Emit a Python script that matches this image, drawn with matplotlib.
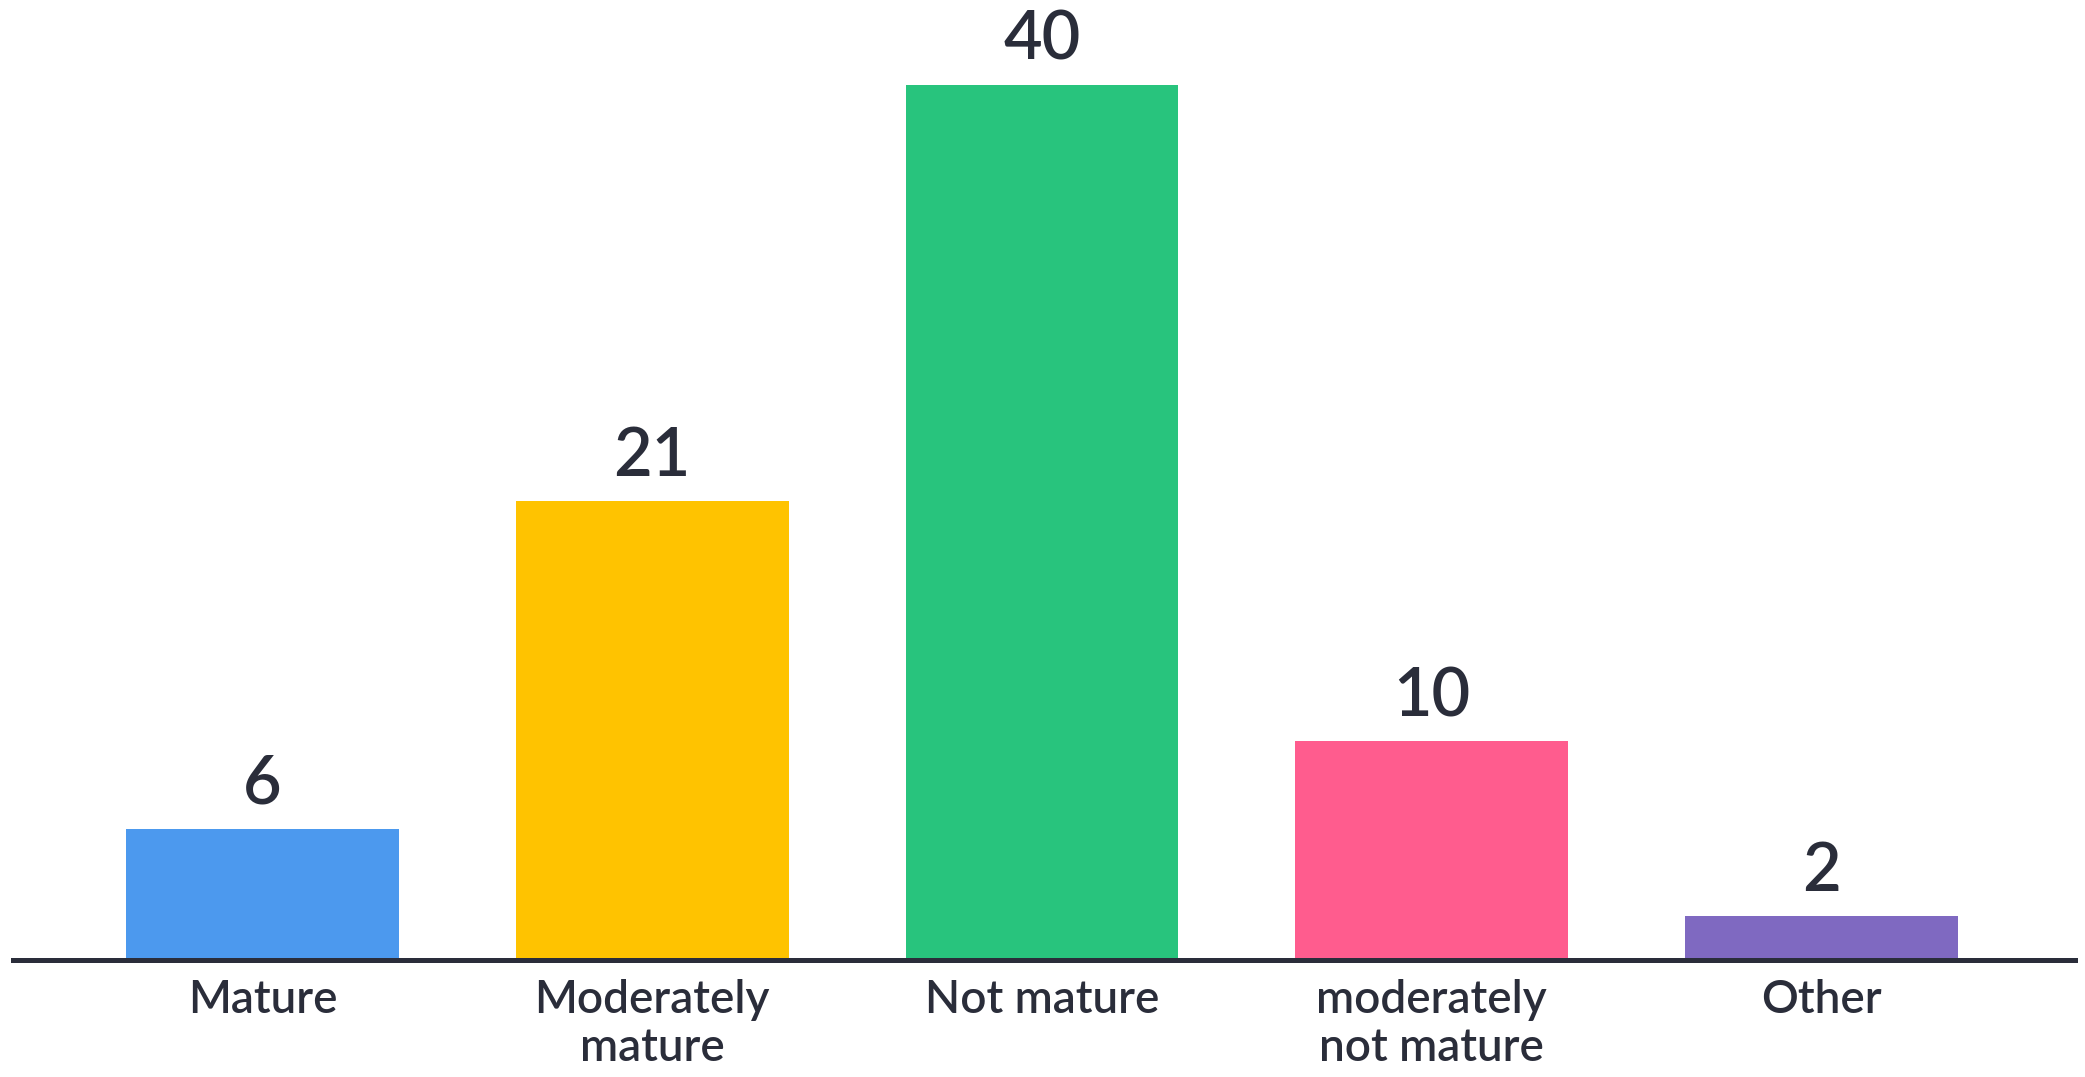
import matplotlib.pyplot as plt

# Données
categories = ["Mature", "Moderately\nmature", "Not mature", "moderately\nnot mature", "Other"]
valeurs = [6, 21, 40, 10, 2]
couleurs = ["#4C99EE", "#FFC300", "#28C47D", "#FF5C8E", "#7F69C1"]

plt.rcParams["font.family"] = ["Lato", "DejaVu Sans"]
texte = "#2A2D3A"

fig = plt.figure(figsize=(20.85, 10.77), dpi=100)
ax = fig.add_axes([0.0062, 0.1086, 0.989, 0.8124])

x = range(len(categories))
bars = ax.bar(x, valeurs, width=0.7, color=couleurs, zorder=2)

for b, v in zip(bars, valeurs):
    ax.text(b.get_x() + b.get_width() / 2, v + 0.6, str(v), ha="center", va="bottom",
            fontsize=48, color=texte, fontweight="semibold", clip_on=False)

ax.set_xlim(-0.64, 4.65)
ax.set_ylim(0, 40)
ax.set_xticks(list(x))
ax.set_xticklabels(categories, fontsize=33, color=texte, linespacing=1.15,
                   fontweight="semibold")
ax.tick_params(axis="x", length=0, pad=14)
ax.set_yticks([])
for s in ["top", "right", "left"]:
    ax.spines[s].set_visible(False)
ax.spines["bottom"].set_color(texte)
ax.spines["bottom"].set_linewidth(3.6)
ax.spines["bottom"].set_zorder(3)

fig.savefig("out.png", dpi=100, facecolor="white")
